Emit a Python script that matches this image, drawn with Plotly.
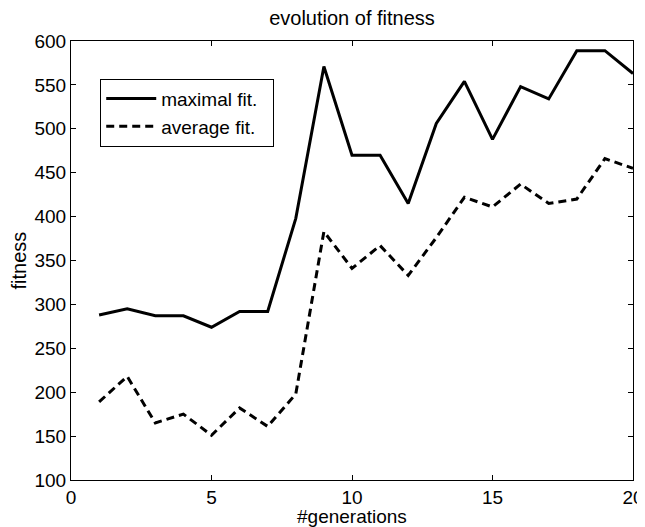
import plotly.graph_objects as go

generations = list(range(1, 21))
maximal_fit = [288, 295, 287, 287, 274, 292, 292, 398, 571, 470, 470, 415, 506, 554, 488, 548, 534, 589, 589, 563]
average_fit = [189, 218, 165, 175, 151, 182, 161, 198, 383, 341, 367, 333, 376, 422, 411, 437, 415, 420, 466, 455]

x_ticks = [0, 5, 10, 15, 20]
y_ticks = [100, 150, 200, 250, 300, 350, 400, 450, 500, 550, 600]

FONT = "Liberation Sans, Arial, Helvetica, sans-serif"

# The page body has an 8px default margin, so the figure is sized to fill
# the remaining 637x519 area of the 645x527 window.
W, H = 637, 519

fig = go.Figure()
fig.add_trace(go.Scatter(x=generations, y=maximal_fit, mode="lines",
                         name="maximal fit.\u00a0\u00a0",
                         line=dict(color="black", width=3)))
fig.add_trace(go.Scatter(x=generations, y=average_fit, mode="lines",
                         name="average fit.\u00a0\u00a0",
                         line=dict(color="black", width=3, dash="8px,5px")))

axis_common = dict(showline=True, linecolor="black", linewidth=1, mirror="ticks",
                   ticks="inside", ticklen=5, tickcolor="black", showgrid=False,
                   zeroline=False, automargin=False,
                   tickfont=dict(family=FONT, size=19, color="black"))

fig.update_layout(
    width=W, height=H,
    margin=dict(l=63, r=12, t=33, b=47),
    paper_bgcolor="white", plot_bgcolor="white",
    font=dict(family=FONT, color="black"),
    title=dict(text="evolution of fitness", x=0.5, xref="paper", y=1 - 10 / H,
               yref="container", yanchor="middle", xanchor="center",
               font=dict(family=FONT, size=20, color="black")),
    xaxis=dict(range=[0, 20], tickvals=x_ticks, ticktext=[str(v) for v in x_ticks],
               **axis_common),
    yaxis=dict(range=[100, 600], tickvals=y_ticks, ticktext=[str(v) for v in y_ticks],
               **axis_common),
    legend=dict(x=0.052, y=0.914, xanchor="left", yanchor="top",
                bordercolor="black", borderwidth=1, bgcolor="white",
                font=dict(family=FONT, size=19, color="black"),
                tracegroupgap=0, itemwidth=50),
    showlegend=True,
    annotations=[
        dict(text="#generations", xref="paper", yref="paper", x=0.5, y=0,
             xanchor="center", yanchor="middle", yshift=-36, showarrow=False,
             font=dict(family=FONT, size=19, color="black")),
        dict(text="fitness", xref="paper", yref="paper", x=0, y=0.5, textangle=-90,
             xanchor="center", yanchor="middle", xshift=-53, showarrow=False,
             font=dict(family=FONT, size=20, color="black")),
    ],
)

fig.write_html("out.html")
